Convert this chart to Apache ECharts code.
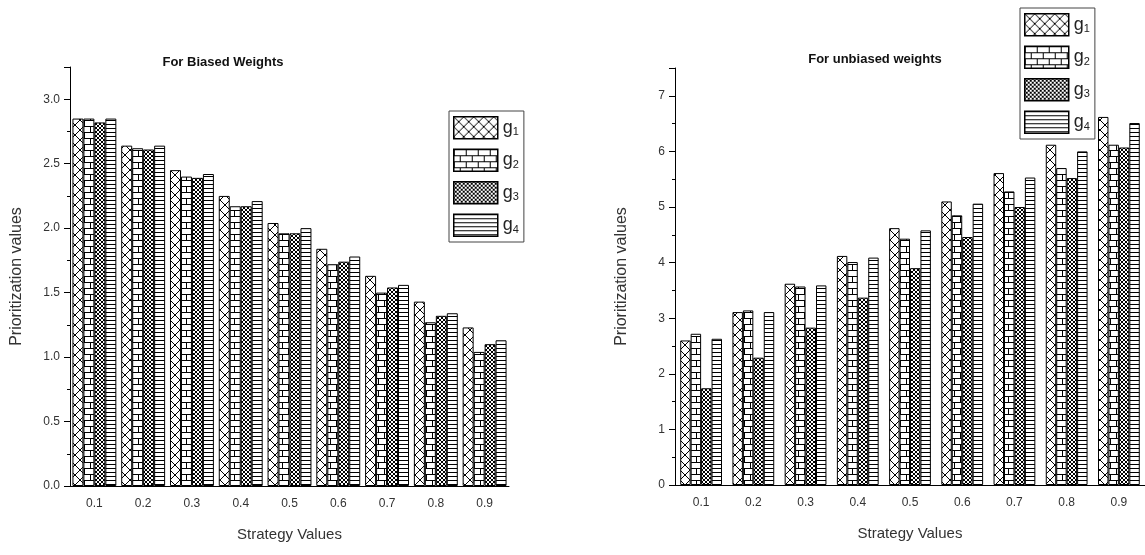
<!DOCTYPE html>
<html>
<head>
<meta charset="utf-8">
<script src="https://cdn.jsdelivr.net/npm/echarts@6/dist/echarts.min.js"></script>
<style>
  html, body { margin: 0; padding: 0; background: #fff; }
  #charts { width: 1145px; height: 555px; }
</style>
</head>
<body>
<div id="charts"></div>
<script>
var categories = ['0.1', '0.2', '0.3', '0.4', '0.5', '0.6', '0.7', '0.8', '0.9'];
var seriesNames = ['g1', 'g2', 'g3', 'g4'];

// For Biased Weights
var biasedG1 = [2.85, 2.64, 2.45, 2.25, 2.04, 1.84, 1.63, 1.43, 1.23];
var biasedG2 = [2.85, 2.62, 2.40, 2.17, 1.96, 1.72, 1.50, 1.27, 1.04];
var biasedG3 = [2.82, 2.61, 2.39, 2.17, 1.96, 1.74, 1.54, 1.32, 1.10];
var biasedG4 = [2.85, 2.64, 2.42, 2.21, 2.00, 1.78, 1.56, 1.34, 1.13];

// For unbiased weights
var unbiasedG1 = [2.60, 3.11, 3.62, 4.12, 4.62, 5.10, 5.61, 6.12, 6.62];
var unbiasedG2 = [2.72, 3.14, 3.57, 4.01, 4.43, 4.85, 5.28, 5.70, 6.12];
var unbiasedG3 = [1.74, 2.29, 2.83, 3.37, 3.90, 4.46, 5.00, 5.52, 6.07];
var unbiasedG4 = [2.63, 3.11, 3.59, 4.09, 4.58, 5.06, 5.53, 6.00, 6.51];

// hatch fills like the Origin ones
function makePattern(kind) {
  var c = document.createElement('canvas');
  var ctx = c.getContext('2d');
  var s = 4;
  if (kind === 'cross') s = 10;
  if (kind === 'brick') s = 12;
  c.width = s; c.height = s;
  ctx.fillStyle = '#fff';
  ctx.fillRect(0, 0, s, s);
  ctx.strokeStyle = '#000';
  ctx.lineWidth = 1;
  ctx.beginPath();
  if (kind === 'cross' || kind === 'dense') {
    ctx.moveTo(0, 0); ctx.lineTo(s, s);
    ctx.moveTo(s, 0); ctx.lineTo(0, s);
  } else if (kind === 'brick') {
    ctx.moveTo(0, 0.5); ctx.lineTo(s, 0.5);
    ctx.moveTo(0, 6.5); ctx.lineTo(s, 6.5);
    ctx.moveTo(0.5, 0); ctx.lineTo(0.5, 6);
    ctx.moveTo(6.5, 6); ctx.lineTo(6.5, 12);
  } else {
    ctx.moveTo(0, 0.5); ctx.lineTo(s, 0.5);
  }
  ctx.stroke();
  return { image: c, repeat: 'repeat' };
}

var patterns = [makePattern('cross'), makePattern('brick'), makePattern('dense'), makePattern('lines')];

var font = 'Liberation Sans, Arial, sans-serif';

function bar(name, data, idx, axis, gap) {
  return {
    name: name,
    type: 'bar',
    xAxisIndex: axis,
    yAxisIndex: axis,
    data: data,
    barGap: '0%',
    barCategoryGap: gap,
    itemStyle: { color: patterns[idx], borderColor: '#000', borderWidth: 1 }
  };
}

function legendBox(left, top) {
  return {
    data: seriesNames,
    orient: 'vertical',
    left: left,
    top: top,
    icon: 'rect',
    itemWidth: 44,
    itemHeight: 22,
    itemGap: 9,
    padding: [5, 5, 5, 4],
    borderColor: '#444',
    borderWidth: 1,
    selectedMode: false,
    itemStyle: { borderColor: '#000', borderWidth: 1.5 },
    formatter: function (n) { return '{g|g}{s|' + n.slice(1) + '}'; },
    textStyle: {
      rich: {
        g: { fontFamily: font, fontSize: 18, color: '#222' },
        s: { fontFamily: font, fontSize: 11, color: '#222', verticalAlign: 'bottom', padding: [9, 0, 0, 0] }
      }
    }
  };
}

function catAxis(grid) {
  return {
    type: 'category',
    gridIndex: grid,
    data: categories,
    name: 'Strategy Values',
    nameLocation: 'middle',
    nameGap: 41,
    nameTextStyle: { fontFamily: font, fontSize: 15, color: '#333' },
    axisLine: { lineStyle: { color: '#000', width: 1 } },
    axisTick: { alignWithLabel: true, length: 5, lineStyle: { color: '#000' } },
    axisLabel: { fontFamily: font, fontSize: 12, color: '#333', margin: 12 }
  };
}

function valAxis(grid, max, interval) {
  return {
    type: 'value',
    gridIndex: grid,
    min: 0,
    max: max,
    interval: interval,
    name: 'Prioritization values',
    nameLocation: 'middle',
    nameGap: 45,
    nameTextStyle: { fontFamily: font, fontSize: 16, color: '#333' },
    axisLine: { show: true, lineStyle: { color: '#000', width: 1 } },
    axisTick: { show: true, length: 6, lineStyle: { color: '#000' } },
    minorTick: { show: true, splitNumber: 2, length: 3, lineStyle: { color: '#000' } },
    splitLine: { show: false },
    axisLabel: {
      fontFamily: font, fontSize: 12, color: '#333', margin: 10,
      formatter: function (v) {
        var k = v / interval;
        if (Math.abs(k - Math.round(k)) > 1e-6) return '';
        return interval < 1 ? v.toFixed(1) : String(v);
      }
    }
  };
}

var myChart = echarts.init(document.getElementById('charts'));
var option = {
  backgroundColor: '#fff',
  animation: false,
  title: [
    { text: 'For Biased Weights', left: 218, top: 51, textAlign: 'center',
      textStyle: { fontFamily: font, fontSize: 13, fontWeight: 'bold', color: '#111' } },
    { text: 'For unbiased weights', left: 870, top: 48, textAlign: 'center',
      textStyle: { fontFamily: font, fontSize: 13, fontWeight: 'bold', color: '#111' } }
  ],
  legend: [legendBox(449, 111), legendBox(1020, 8)],
  grid: [
    { left: 70, top: 67, width: 439, height: 419 },
    { left: 675, top: 68, width: 473, height: 417 }
  ],
  xAxis: [catAxis(0), catAxis(1)],
  yAxis: [valAxis(0, 3.25, 0.5), valAxis(1, 7.5, 1)],
  series: [
    bar('g1', biasedG1, 0, 0, '10%'),
    bar('g2', biasedG2, 1, 0, '10%'),
    bar('g3', biasedG3, 2, 0, '10%'),
    bar('g4', biasedG4, 3, 0, '10%'),
    bar('g1', unbiasedG1, 0, 1, '20%'),
    bar('g2', unbiasedG2, 1, 1, '20%'),
    bar('g3', unbiasedG3, 2, 1, '20%'),
    bar('g4', unbiasedG4, 3, 1, '20%')
  ]
};
myChart.setOption(option);
</script>
</body>
</html>
